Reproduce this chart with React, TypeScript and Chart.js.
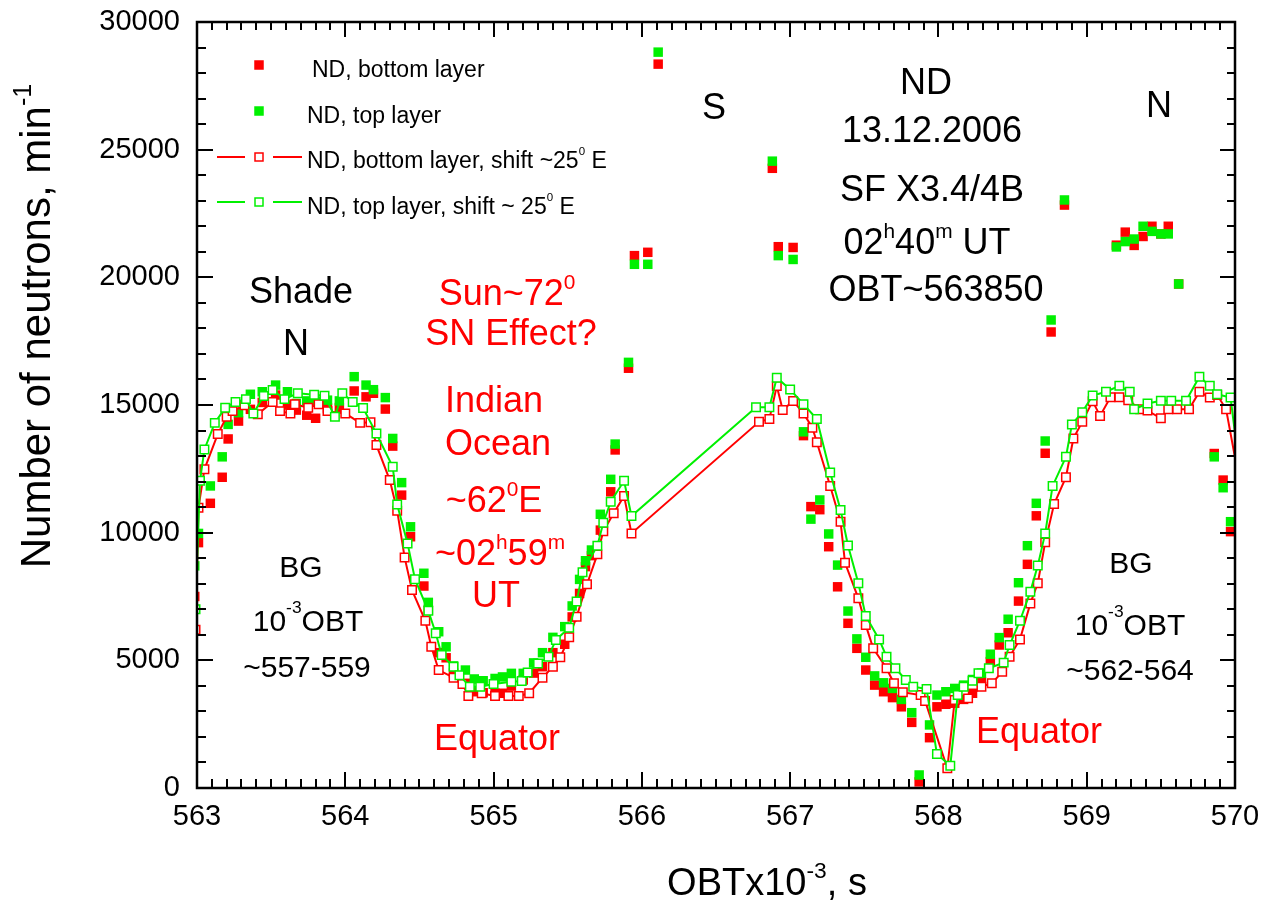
import React, { useEffect, useRef } from "react";
import { Chart, registerables } from "chart.js";

Chart.register(...registerables);

const RED = "#FF0000";
const GREEN = "#00F000";
const BLACK = "#000000";
const FONT = "'Liberation Sans', Arial, sans-serif";

// Axis ticks
const xTickValues = [563, 564, 565, 566, 567, 568, 569, 570];
const yTickValues = [0, 5000, 10000, 15000, 20000, 25000, 30000];

// ND counts, both layers (filled markers), OBT x 10^-3 s
const obtMeasured = [
  562.985, 563.01, 563.09, 563.17, 563.21, 563.28, 563.36, 563.44, 563.53, 563.61,
  563.67, 563.74, 563.8, 563.88, 563.96, 564.06, 564.14, 564.19, 564.27, 564.32,
  564.38, 564.44, 564.53, 564.56, 564.63, 564.68, 564.73, 564.81, 564.87, 564.93,
  565.01, 565.06, 565.12, 565.2, 565.27, 565.33, 565.4, 565.48, 565.53, 565.58,
  565.62, 565.66, 565.72, 565.79, 565.82, 565.91, 565.95, 566.04, 566.11, 566.88,
  566.92, 567.02, 567.09, 567.14, 567.2, 567.26, 567.32, 567.39, 567.45, 567.51,
  567.57, 567.63, 567.69, 567.75, 567.82, 567.87, 567.94, 567.99, 568.05, 568.11,
  568.17, 568.23, 568.29, 568.35, 568.41, 568.47, 568.54, 568.6, 568.66, 568.72,
  568.76, 568.85, 569.2, 569.26, 569.32, 569.38, 569.44, 569.5, 569.55, 569.62,
  569.86, 569.92, 569.97,
];
const bottomLayer = [
  7500, 9610, 11150, 12170, 13670, 14370, 14830, 15100, 15390, 15000,
  14800, 14600, 14480, 14880, 14900, 15550, 15320, 15460, 14840, 13390,
  11470, 9840, 7910, 6970, 5300, 5100, 4500, 4100, 3770, 3730,
  3710, 3710, 3990, 4230, 4500, 4750, 5300, 5630, 6700, 7620,
  8670, 9100, 10100, 11600, 13240, 16440, 20850, 20980, 28350, 24270,
  21200, 21170, 13800, 11020, 10900, 9450, 7880, 6450, 5470, 4620,
  4030, 3770, 3540, 3180, 2570, 240, 1970, 3180, 3280, 3320,
  3470, 3710, 4160, 4950, 5600, 6080, 7320, 8760, 10660, 13110,
  17860, 22830, 21260, 21770, 21250, 21600, 22000, 21700, 22000, 19740,
  13100, 12060, 10040,
];
const topLayer = [
  8700, 9970, 11830, 12970, 14240, 14700, 15420, 15520, 15780, 15520,
  15060, 15160, 15150, 15190, 15160, 16110, 15780, 15600, 15290, 13690,
  11960, 10230, 8410, 7270, 6120, 5530, 4780, 4620, 4270, 4200,
  4290, 4350, 4490, 4490, 4900, 5300, 5900, 6320, 7130, 8170,
  8900, 9320, 10720, 12090, 13470, 16670, 20510, 20510, 28820, 24550,
  20850, 20700, 13950, 10530, 11280, 9950, 8730, 6930, 5840, 5120,
  4390, 4120, 3900, 3470, 2950, 510, 2470, 3640, 3770, 3900,
  4030, 4250, 4500, 5240, 5890, 6610, 8040, 9490, 11150, 13590,
  18330, 23030, 21190, 21400, 21500, 22000, 21800, 21700, 21700, 19740,
  12970, 11760, 10430,
];

// Bottom layer, track shifted ~25 deg E (open markers + line)
const obtBottomShift = [
  562.99, 563.01, 563.05, 563.14, 563.2, 563.24, 563.32, 563.41, 563.51, 563.56,
  563.63, 563.66, 563.75, 563.82, 563.88, 564.0, 564.1, 564.17, 564.21, 564.3,
  564.35, 564.4, 564.45, 564.54, 564.58, 564.63, 564.73, 564.79, 564.83, 564.92,
  565.01, 565.1, 565.17, 565.24, 565.33, 565.4, 565.45, 565.51, 565.56, 565.63,
  565.7, 565.74, 565.81, 565.88, 565.93, 566.79, 566.86, 566.91, 566.95, 567.02,
  567.09, 567.15, 567.18, 567.27, 567.34, 567.37, 567.46, 567.51, 567.56, 567.65,
  567.7, 567.76, 567.88, 567.91, 568.06, 568.11, 568.2, 568.29, 568.36, 568.43,
  568.48, 568.55, 568.62, 568.67, 568.72, 568.78, 568.86, 568.91, 568.97, 569.04,
  569.09, 569.16, 569.22, 569.28, 569.36, 569.41, 569.5, 569.55, 569.61, 569.69,
  569.76, 569.83, 569.88, 569.94, 570.03,
];
const bottomShift = [
  6200, 10980, 12480, 13860, 14540, 14760, 14990, 14640, 15120, 14760,
  14670, 15030, 14890, 15030, 14760, 14670, 14300, 14320, 13430, 12060,
  10860, 9030, 7750, 6550, 5530, 4620, 4320, 4070, 3600, 3710,
  3600, 3600, 3600, 3710, 4320, 4750, 5120, 5900, 6710, 7980,
  9150, 10060, 10760, 11440, 9970, 14340, 14450, 15740, 14800, 15160,
  14670, 14110, 13540, 11830, 10430, 8820, 7430, 6380, 5470, 4690,
  4100, 3750, 3640, 3410, 770, 3450, 3510, 3970, 4100, 4550,
  5140, 5820, 7230, 8020, 9620, 11120, 12170, 13690, 14340, 15150,
  14570, 15300, 15300, 15190, 14830, 14780, 14480, 14830, 14830, 14830,
  15520, 15290, 15390, 14830, 12000,
];

// Top layer, track shifted ~25 deg E (open markers + line)
const obtTopShift = [
  562.99, 563.02, 563.05, 563.12, 563.19, 563.26, 563.33, 563.38, 563.45, 563.51,
  563.59, 563.68, 563.79, 563.86, 563.93, 563.98, 564.05, 564.12, 564.21, 564.32,
  564.35, 564.42, 564.47, 564.56, 564.61, 564.65, 564.73, 564.77, 564.84, 564.91,
  565.0, 565.12, 565.19, 565.23, 565.3, 565.37, 565.42, 565.51, 565.56, 565.6,
  565.7, 565.74, 565.79, 565.88, 565.93, 566.77, 566.86, 566.91, 567.0, 567.09,
  567.18, 567.27, 567.34, 567.39, 567.46, 567.51, 567.6, 567.65, 567.71, 567.78,
  567.83, 567.92, 567.99, 568.08, 568.13, 568.17, 568.23, 568.27, 568.34, 568.44,
  568.48, 568.55, 568.62, 568.67, 568.72, 568.77, 568.86, 568.9, 568.97, 569.04,
  569.13, 569.22, 569.29, 569.32, 569.41, 569.5, 569.57, 569.67, 569.76, 569.83,
  569.88, 569.97, 570.03,
];
const topShift = [
  7000, 12030, 13260, 14300, 14890, 15120, 15230, 14670, 15350, 15590,
  15230, 15460, 15400, 15360, 14540, 15460, 15120, 14880, 13880, 12580,
  11100, 9580, 8180, 6940, 6060, 5210, 4750, 4420, 3970, 3970,
  4070, 4160, 4190, 4520, 4880, 5140, 5800, 6280, 7300, 8450,
  9490, 10390, 11210, 12030, 10650, 14910, 14910, 16070, 15610, 15030,
  14450, 12360, 10890, 9500, 8020, 6740, 5820, 5140, 4690, 4230,
  3970, 3880, 1330, 870, 3640, 3970, 4200, 4490, 4690, 4910,
  5600, 6550, 7690, 8710, 9970, 11830, 12970, 14240, 14720, 15370,
  15520, 15750, 15520, 14830, 15060, 15170, 15170, 15170, 16110, 15750,
  15420, 15290, 12500,
];

const legendLabels = [
  "ND, bottom layer",
  "ND, top layer",
  "ND, bottom layer, shift ~25",
  "ND, top layer, shift ~ 25",
];

type Run = { t: string; sup?: boolean };
type Note = { runs: Run[]; x: number; y: number; size: number; color: string; supRaise?: number };

const BIG = 36;
const MID = 30;

const notes: Note[] = [
  { runs: [{ t: "Shade" }], x: 301, y: 303, size: BIG, color: BLACK },
  { runs: [{ t: "N" }], x: 296, y: 355, size: BIG, color: BLACK },
  { runs: [{ t: "Sun~72" }, { t: "0", sup: true }], x: 507, y: 305, size: BIG, color: RED },
  { runs: [{ t: "SN Effect?" }], x: 511, y: 345, size: BIG, color: RED },
  { runs: [{ t: "Indian" }], x: 494, y: 412, size: BIG, color: RED },
  { runs: [{ t: "Ocean" }], x: 498, y: 455, size: BIG, color: RED },
  { runs: [{ t: "~62" }, { t: "0", sup: true }, { t: "E" }], x: 494, y: 512, size: BIG, color: RED },
  { runs: [{ t: "~02" }, { t: "h", sup: true }, { t: "59" }, { t: "m", sup: true }], x: 500, y: 565, size: BIG, color: RED },
  { runs: [{ t: "UT" }], x: 496, y: 607, size: BIG, color: RED },
  { runs: [{ t: "Equator" }], x: 497, y: 750, size: BIG, color: RED },
  { runs: [{ t: "Equator" }], x: 1039, y: 743, size: BIG, color: RED },
  { runs: [{ t: "S" }], x: 714, y: 119, size: BIG, color: BLACK },
  { runs: [{ t: "ND" }], x: 926, y: 94, size: BIG, color: BLACK },
  { runs: [{ t: "13.12.2006" }], x: 932, y: 142, size: BIG, color: BLACK },
  { runs: [{ t: "SF X3.4/4B" }], x: 932, y: 201, size: BIG, color: BLACK },
  { runs: [{ t: "02" }, { t: "h", sup: true }, { t: "40" }, { t: "m", sup: true }, { t: " UT" }], x: 927, y: 254, size: BIG, color: BLACK },
  { runs: [{ t: "OBT~563850" }], x: 936, y: 301, size: BIG, color: BLACK },
  { runs: [{ t: "N" }], x: 1159, y: 117, size: BIG, color: BLACK },
  { runs: [{ t: "BG" }], x: 301, y: 577, size: MID, color: BLACK },
  { runs: [{ t: "10" }, { t: "-3", sup: true }, { t: "OBT" }], x: 308, y: 631, size: MID, color: BLACK, supRaise: 0.6 },
  { runs: [{ t: "~557-559" }], x: 307, y: 677, size: MID, color: BLACK },
  { runs: [{ t: "BG" }], x: 1131, y: 573, size: MID, color: BLACK },
  { runs: [{ t: "10" }, { t: "-3", sup: true }, { t: "OBT" }], x: 1130, y: 635, size: MID, color: BLACK, supRaise: 0.6 },
  { runs: [{ t: "~562-564" }], x: 1130, y: 680, size: MID, color: BLACK },
];

function drawRich(
  ctx: CanvasRenderingContext2D,
  runs: Run[],
  x: number,
  y: number,
  size: number,
  color: string,
  align: "center" | "left" = "center",
  supScale = 0.58,
  supRaise = 0.45
) {
  const supSize = size * supScale;
  const widths = runs.map((r) => {
    ctx.font = `${r.sup ? supSize : size}px ${FONT}`;
    return ctx.measureText(r.t).width;
  });
  const total = widths.reduce((a, b) => a + b, 0);
  let cx = align === "center" ? x - total / 2 : x;
  ctx.fillStyle = color;
  ctx.textAlign = "left";
  ctx.textBaseline = "alphabetic";
  runs.forEach((r, i) => {
    ctx.font = `${r.sup ? supSize : size}px ${FONT}`;
    ctx.fillText(r.t, cx, r.sup ? y - size * supRaise : y);
    cx += widths[i];
  });
}

const toPoints = (xs: number[], ys: number[]) => xs.map((x, i) => ({ x, y: ys[i] }));

// Inward major/minor ticks on all four sides plus the frame
const framePlugin = {
  id: "frameTicks",
  afterDatasetsDraw(chart: any) {
    const { ctx, chartArea } = chart;
    const { left, right, top, bottom } = chartArea;
    const xs = chart.scales.x;
    const ys = chart.scales.y;
    ctx.save();
    ctx.strokeStyle = BLACK;
    ctx.lineWidth = 2;
    ctx.lineCap = "butt";
    ctx.beginPath();
    for (let i = 1; i < 70; i++) {
      const px = Math.round(xs.getPixelForValue(563 + i / 10));
      const major = i % 10 === 0;
      const lb = major ? 16 : 9;
      const lt = major ? 15 : 8;
      ctx.moveTo(px, bottom);
      ctx.lineTo(px, bottom - lb);
      ctx.moveTo(px, top);
      ctx.lineTo(px, top + lt);
    }
    for (let i = 1; i < 30; i++) {
      const py = Math.round(ys.getPixelForValue(i * 1000));
      const major = i % 5 === 0;
      const ll = major ? 16 : 9;
      const lr = major ? 15 : 8;
      ctx.moveTo(left, py);
      ctx.lineTo(left + ll, py);
      ctx.moveTo(right, py);
      ctx.lineTo(right - lr, py);
    }
    ctx.stroke();
    ctx.lineWidth = 2.5;
    ctx.strokeRect(left, top, right - left, bottom - top);
    ctx.restore();
  },
};

function square(ctx: CanvasRenderingContext2D, x: number, y: number, side: number, fill: string, stroke?: string) {
  if (stroke) {
    ctx.fillStyle = "#fff";
    ctx.fillRect(x - side / 2, y - side / 2, side, side);
    ctx.strokeStyle = stroke;
    ctx.lineWidth = 1.5;
    ctx.strokeRect(x - side / 2, y - side / 2, side, side);
  } else {
    ctx.fillStyle = fill;
    ctx.fillRect(x - side / 2, y - side / 2, side, side);
  }
}

// Legend, axis titles and text annotations
const textPlugin = {
  id: "texts",
  afterDraw(chart: any) {
    const ctx: CanvasRenderingContext2D = chart.ctx;
    ctx.save();

    // legend
    const rows = [
      { y: 77, my: 65, color: RED, open: false, tx: 312 },
      { y: 123, my: 111, color: GREEN, open: false, tx: 307 },
      { y: 168, my: 157, color: RED, open: true, tx: 307 },
      { y: 214, my: 202, color: GREEN, open: true, tx: 307 },
    ];
    rows.forEach((r, i) => {
      if (r.open) {
        ctx.strokeStyle = r.color;
        ctx.lineWidth = 2;
        ctx.beginPath();
        ctx.moveTo(217, r.my);
        ctx.lineTo(245, r.my);
        ctx.moveTo(273, r.my);
        ctx.lineTo(302, r.my);
        ctx.stroke();
        square(ctx, 259, r.my, 8, r.color, r.color);
        drawRich(ctx, [{ t: legendLabels[i] }, { t: "0", sup: true }, { t: " E" }], r.tx, r.y, 23, BLACK, "left", 0.5, 0.55);
      } else {
        square(ctx, 259, r.my, 9.5, r.color);
        drawRich(ctx, [{ t: legendLabels[i] }], r.tx, r.y, 23, BLACK, "left");
      }
    });

    // annotations
    notes.forEach((n) => drawRich(ctx, n.runs, n.x, n.y, n.size, n.color, "center", 0.58, n.supRaise ?? 0.45));

    // x axis title
    drawRich(ctx, [{ t: "OBTx10" }, { t: "-3", sup: true }, { t: ", s" }], 767, 895, 38, BLACK, "center", 0.6, 0.45);

    // y axis title
    ctx.save();
    ctx.translate(50, 326);
    ctx.rotate(-Math.PI / 2);
    drawRich(ctx, [{ t: "Number of neutrons, min" }, { t: "-1", sup: true }], 0, 0, 42, BLACK, "center", 0.6, 0.45);
    ctx.restore();

    ctx.restore();
  },
};

export default function App() {
  const canvasRef = useRef<HTMLCanvasElement | null>(null);

  useEffect(() => {
    document.body.style.margin = "0";
    const canvas = canvasRef.current;
    if (!canvas) return;
    Chart.defaults.font.family = FONT;

    const chart = new Chart(canvas, {
      type: "scatter",
      data: {
        datasets: [
          {
            label: "ND, top layer, shift ~ 25 E",
            data: toPoints(obtTopShift, topShift),
            showLine: true,
            borderColor: GREEN,
            borderWidth: 2,
            pointStyle: "rect",
            pointRadius: 6,
            pointBorderWidth: 1.5,
            pointBorderColor: GREEN,
            pointBackgroundColor: "#ffffff",
            order: 0,
          },
          {
            label: "ND, bottom layer, shift ~25 E",
            data: toPoints(obtBottomShift, bottomShift),
            showLine: true,
            borderColor: RED,
            borderWidth: 2,
            pointStyle: "rect",
            pointRadius: 6,
            pointBorderWidth: 1.5,
            pointBorderColor: RED,
            pointBackgroundColor: "#ffffff",
            order: 1,
          },
          {
            label: "ND, top layer",
            data: toPoints(obtMeasured, topLayer),
            showLine: false,
            pointStyle: "rect",
            pointRadius: 6.7,
            pointBorderWidth: 0,
            pointBackgroundColor: GREEN,
            backgroundColor: GREEN,
            borderColor: GREEN,
            order: 2,
          },
          {
            label: "ND, bottom layer",
            data: toPoints(obtMeasured, bottomLayer),
            showLine: false,
            pointStyle: "rect",
            pointRadius: 6.7,
            pointBorderWidth: 0,
            pointBackgroundColor: RED,
            backgroundColor: RED,
            borderColor: RED,
            order: 3,
          },
        ],
      },
      options: {
        animation: false,
        responsive: false,
        maintainAspectRatio: false,
        layout: { padding: { left: 0, top: 22, right: 30, bottom: 0 } },
        plugins: {
          legend: { display: false },
          tooltip: { enabled: false },
          title: { display: false },
        },
        scales: {
          x: {
            type: "linear",
            min: 563,
            max: 570,
            grid: { display: false, drawTicks: false },
            border: { display: false },
            afterBuildTicks: (s: any) => {
              s.ticks = xTickValues.map((v) => ({ value: v }));
            },
            afterFit: (s: any) => {
              s.height = 115;
              s.paddingLeft = 0;
              s.paddingRight = 0;
            },
            ticks: {
              padding: 12,
              color: BLACK,
              font: { size: 29, family: FONT },
              autoSkip: false,
              maxRotation: 0,
              callback: (v: any) => String(v),
            },
          },
          y: {
            type: "linear",
            min: 0,
            max: 30000,
            grid: { display: false, drawTicks: false },
            border: { display: false },
            afterBuildTicks: (s: any) => {
              s.ticks = yTickValues.map((v) => ({ value: v }));
            },
            afterFit: (s: any) => {
              s.width = 197;
              s.paddingTop = 0;
              s.paddingBottom = 0;
            },
            ticks: {
              padding: 17,
              color: BLACK,
              font: { size: 29, family: FONT },
              autoSkip: false,
              callback: (v: any) => String(v),
            },
          },
        },
      },
      plugins: [framePlugin, textPlugin],
    });

    return () => chart.destroy();
  }, []);

  return (
    <div style={{ width: 1265, height: 903, background: "#fff" }}>
      <canvas ref={canvasRef} width={1265} height={903} />
    </div>
  );
}
